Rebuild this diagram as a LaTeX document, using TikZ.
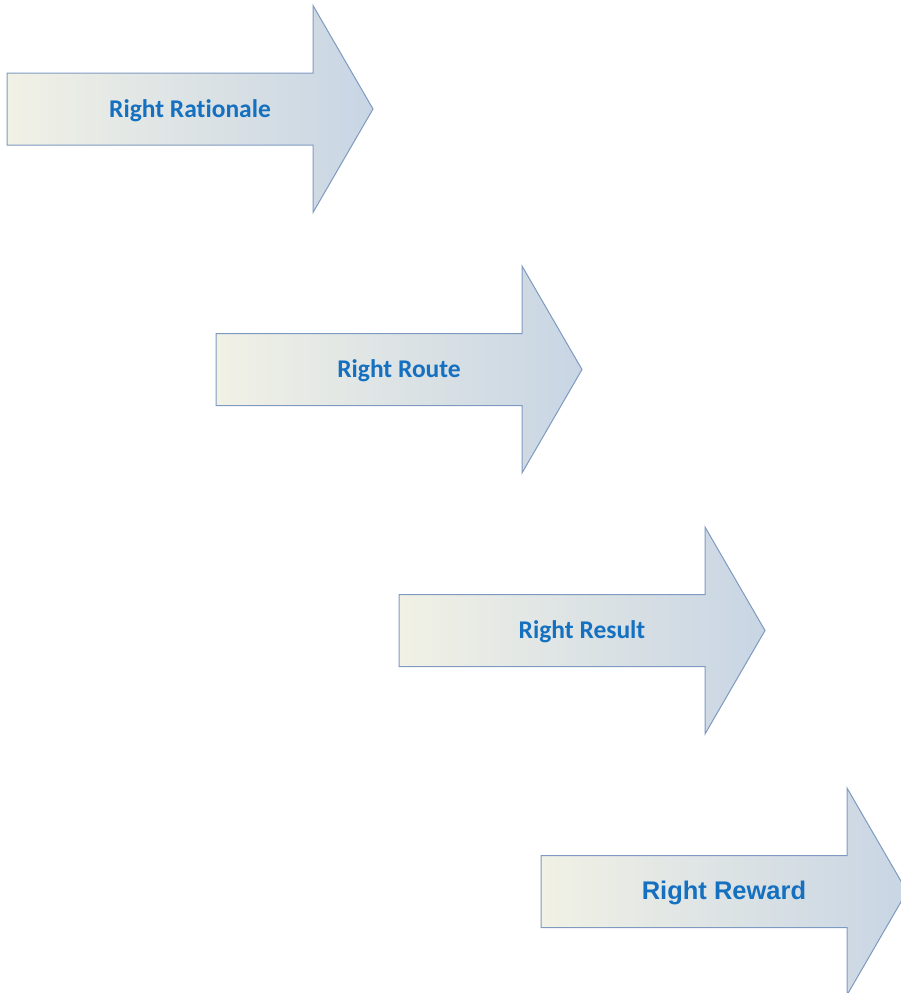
\documentclass[tikz,border=0pt]{standalone}
\usepackage{fontspec}
\newfontfamily\calib{Carlito}[Ligatures=NoCommon]
\newfontfamily\arialf{Liberation Sans}
\definecolor{arrowedge}{HTML}{7E9AC0}
\definecolor{arrowleft}{HTML}{F1F1E5}
\definecolor{arrowright}{HTML}{C8D5E4}
\definecolor{labelblue}{HTML}{1570C0}

\begin{document}
\begin{tikzpicture} [x=1pt, y=-1pt,
  bigarrow/.style={draw=arrowedge, line width=1pt, line join=miter, left color=arrowleft, right color=arrowright},
  arrowlabel/.style={text=labelblue, anchor=base, inner sep=0}]
\useasboundingbox (0,0) rectangle (900,993);
% x of tail, y of centre line, font, text, name
\foreach \x/\y/\f/\lbl/\nm in {7/109/\calib/Right Rationale/rationale, 216/369.5/\calib/Right Route/route, 399/630.5/\calib/Right Result/result, 541/891.5/\arialf/Right Reward/reward} {
 \path[bigarrow] (\x,\y-36) --++(306,0) --++(0,-67.5) -- (\x+366,\y) -- (\x+306,\y+103.5) --++(0,-67.5) -- (\x,\y+36) -- cycle;
 \node[arrowlabel, font=\f\bfseries\fontsize{25.5}{30}\selectfont] (\nm) at (\x+183,\y+8) {\lbl};
}
\end{tikzpicture}
\end{document}
